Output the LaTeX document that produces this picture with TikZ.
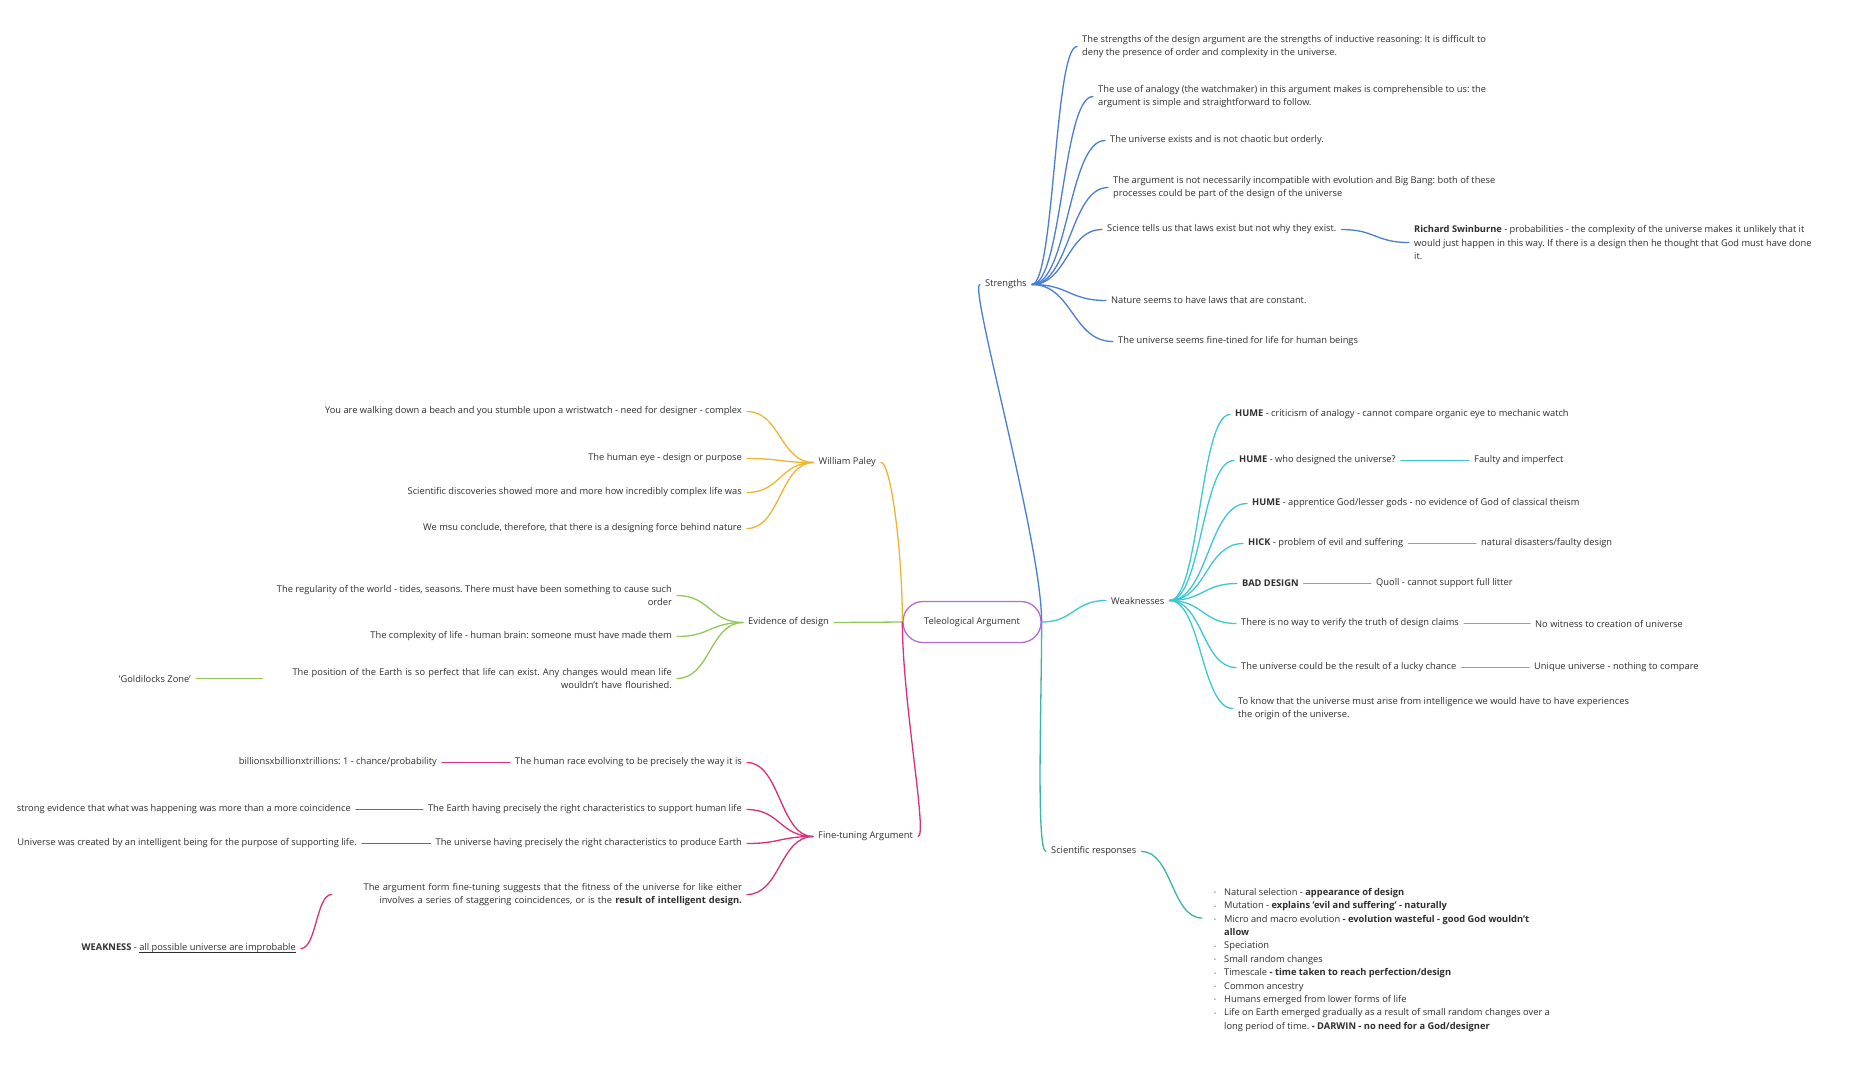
\documentclass[tikz,border=0pt]{standalone}
\usepackage{fontspec}
\setmainfont{Open Sans}
\usetikzlibrary{calc}
\definecolor{txtc}{HTML}{2E2E2E}
\definecolor{cblue}{HTML}{4A7DD4}
\definecolor{ccyan}{HTML}{3CC8D0}
\definecolor{cteal}{HTML}{3AB5A5}
\definecolor{cyel}{HTML}{F0B530}
\definecolor{cgrn}{HTML}{94C75A}
\definecolor{cmag}{HTML}{D8307A}
\definecolor{cpur}{HTML}{B66BD6}
\newcommand\myfs{\fontsize{9.3}{13.4}\selectfont}
\newlength\bltw \setlength\bltw{10pt}
\newcommand\blt{\makebox[\bltw][l]{\raisebox{0.6pt}{\fontsize{5}{5}\selectfont •}}}
\newcommand\myul[1]{\setbox0\hbox{#1}\rlap{\rule[-1.8pt]{\wd0}{0.5pt}}\box0}
\frenchspacing
\begin{document}
\begin{tikzpicture}[x=1pt,y=-1pt,
  txt/.style={inner xsep=5pt, inner ysep=2pt, font=\myfs, text=txtc, yshift=-1.5pt},
  lt/.style={txt, anchor=west, align=left},
  rt/.style={txt, anchor=east, align=right},
  con/.style={line width=1.3pt, line cap=round},
  scurve/.style={to path={let \p1=(\tikztostart), \p2=(\tikztotarget) in
     .. controls ({\x1+0.5*(\x2-\x1)},\y1) and ({\x2-0.5*(\x2-\x1)},\y2) .. (\tikztotarget)}}
]
\fill[white] (0,0) rectangle (1852,1080);
\useasboundingbox (0,0) rectangle (1852,1080);

% central
\node[draw=cpur, line width=1.3pt, rounded corners=20pt, minimum width=138pt, minimum height=41pt, font=\myfs, text=txtc] (c) at (972,622) {Teleological Argument};

% ---------- Strengths ----------
\node[lt] (str) at (980,283) {Strengths};
\node[lt] (s1) at (1077,45) {The strengths of the design argument are the strengths of inductive reasoning: It is difficult to\\deny the presence of order and complexity in the universe.};
\node[lt] (s2) at (1093,95) {The use of analogy (the watchmaker) in this argument makes is comprehensible to us: the\\argument is simple and straightforward to follow.};
\node[lt] (s3) at (1105,139) {The universe exists and is not chaotic but orderly.};
\node[lt] (s4) at (1108,186) {The argument is not necessarily incompatible with evolution and Big Bang: both of these\\processes could be part of the design of the universe};
\node[lt] (s5) at (1102,228) {Science tells us that laws exist but not why they exist.};
\node[lt] (swin) at (1409,241) {\textbf{Richard Swinburne} - probabilities - the complexity of the universe makes it unlikely that it\\would just happen in this way. If there is a design then he thought that God must have done\\it.};
\node[lt] (s6) at (1106,299) {Nature seems to have laws that are constant.};
\node[lt] (s7) at (1113,340) {The universe seems fine-tined for life for human beings};

\draw[con, cblue] (c.east) .. controls +(0,-80) and +(-12,0) .. (str.west);
\foreach \t in {s1,s2,s3,s4,s5,s6,s7}{
  \draw[con, cblue] (str.east) to[scurve] (\t.west);
}
\draw[con, cblue] (s5.east) to[scurve] (swin.west);

% ---------- Weaknesses ----------
\node[lt] (wk) at (1106,599) {Weaknesses};
\node[lt] (w1) at (1230,413) {\textbf{HUME} - criticism of analogy - cannot compare organic eye to mechanic watch};
\node[lt] (w2) at (1234,459) {\textbf{HUME} - who designed the universe?};
\node[lt] (w3) at (1247,502) {\textbf{HUME} - apprentice God/lesser gods - no evidence of God of classical theism};
\node[lt] (w4) at (1243,542) {\textbf{HICK} - problem of evil and suffering};
\node[lt] (w5) at (1237,582) {\textbf{BAD DESIGN}};
\node[lt] (w6) at (1236,622) {There is no way to verify the truth of design claims};
\node[lt] (w7) at (1236,666) {The universe could be the result of a lucky chance};
\node[lt] (w8) at (1233,707) {To know that the universe must arise from intelligence we would have to have experiences\\the origin of the universe.};
\node[lt] (w2r) at (1469,459) {Faulty and imperfect};
\node[lt] (w4r) at (1476,542) {natural disasters/faulty design};
\node[lt] (w5r) at (1371,582) {Quoll - cannot support full litter};
\node[lt] (w6r) at (1530,622) {No witness to creation of universe};
\node[lt] (w7r) at (1529,666) {Unique universe - nothing to compare};

\draw[con, ccyan] (c.east) to[scurve] (wk.west);
\foreach \t in {w1,w2,w3,w4,w5,w6,w7,w8}{
  \draw[con, ccyan] (wk.east) to[scurve] (\t.west);
}
\draw[con, ccyan] (w2.east) -- (w2r.west);
\draw[con, ccyan] (w4.east) -- (w4r.west);
\draw[con, ccyan] (w5.east) -- (w5r.west);
\draw[con, ccyan] (w6.east) -- (w6r.west);
\draw[con, ccyan] (w7.east) -- (w7r.west);

% ---------- Scientific responses ----------
\node[lt] (sci) at (1046,850) {Scientific responses};
\node[anchor=north west, inner sep=0pt, align=left, font=\myfs, text=txtc] (list) at (1214,888) {%
\blt Natural selection - \textbf{appearance of design}\\
\blt Mutation - \textbf{explains 'evil and suffering' - naturally}\\
\blt Micro and macro evolution \textbf{- evolution wasteful - good God wouldn't}\\
\hspace*{\bltw}\textbf{allow}\\
\blt Speciation\\
\blt Small random changes\\
\blt Timescale \textbf{- time taken to reach perfection/design}\\
\blt Common ancestry\\
\blt Humans emerged from lower forms of life\\
\blt Life on Earth emerged gradually as a result of small random changes over a\\
\hspace*{\bltw}long period of time. \textbf{- DARWIN - no need for a God/designer}};
\coordinate (srend) at (1202,918);
\draw[con, cteal] (c.east) .. controls +(0,80) and +(-10,0) .. (sci.west);
\draw[con, cteal] (sci.east) to[scurve] (srend);

% ---------- William Paley ----------
\node[rt] (paley) at (881,461) {William Paley};
\node[rt] (p1) at (747,410) {You are walking down a beach and you stumble upon a wristwatch - need for designer - complex};
\node[rt] (p2) at (747,457) {The human eye - design or purpose};
\node[rt] (p3) at (747,491) {Scientific discoveries showed more and more how incredibly complex life was};
\node[rt] (p4) at (747,527) {We msu conclude, therefore, that there is a designing force behind nature};
\draw[con, cyel] (c.west) .. controls +(0,-70) and +(10,0) .. (paley.east);
\foreach \t in {p1,p2,p3,p4}{
  \draw[con, cyel] (paley.west) to[scurve] (\t.east);
}

% ---------- Evidence of design ----------
\node[rt] (evd) at (834,621) {Evidence of design};
\node[rt] (e1) at (677,594) {The regularity of the world - tides, seasons. There must have been something to cause such\\order};
\node[rt] (e2) at (677,635) {The complexity of life - human brain: someone must have made them};
\node[rt, text width=404pt] (e3) at (677,677) {The position of the Earth is so perfect that life can exist. Any changes would mean life\\wouldn't have flourished.};
\node[rt] (gold) at (196,677) {'Goldilocks Zone'};
\draw[con, cgrn] (c.west) to[scurve] (evd.east);
\foreach \t in {e1,e2,e3}{
  \draw[con, cgrn] (evd.west) to[scurve] (\t.east);
}
\draw[con, cgrn] (gold.east) -- (e3.west);

% ---------- Fine-tuning ----------
\node[rt] (ft) at (918,835) {Fine-tuning Argument};
\node[rt] (f1) at (747,761) {The human race evolving to be precisely the way it is};
\node[rt] (f2) at (747,808) {The Earth having precisely the right characteristics to support human life};
\node[rt] (f3) at (747,842) {The universe having precisely the right characteristics to produce Earth};
\node[rt, text width=405pt] (f4) at (747,893) {The argument form fine-tuning suggests that the fitness of the universe for like either\\involves a series of staggering coincidences, or is the \textbf{result of intelligent design.}};
\node[rt] (f1l) at (442,761) {billionsxbillionxtrillions: 1 - chance/probability};
\node[rt] (f2l) at (356,808) {strong evidence that what was happening was more than a more coincidence};
\node[rt] (f3l) at (362,842) {Universe was created by an intelligent being for the purpose of supporting life.};
\node[rt] (weak) at (301,947) {\textbf{WEAKNESS} - \myul{all possible universe are improbable}};
\draw[con, cmag] (c.west) .. controls +(0,80) and +(10,0) .. (ft.east);
\foreach \t in {f1,f2,f3,f4}{
  \draw[con, cmag] (ft.west) to[scurve] (\t.east);
}
\draw[con, cmag] (f1l.east) -- (f1.west);
\draw[con, cmag] (f2l.east) -- (f2.west);
\draw[con, cmag] (f3l.east) -- (f3.west);
\draw[con, cmag] (weak.east) to[scurve] (f4.west);
\end{tikzpicture}
\end{document}
